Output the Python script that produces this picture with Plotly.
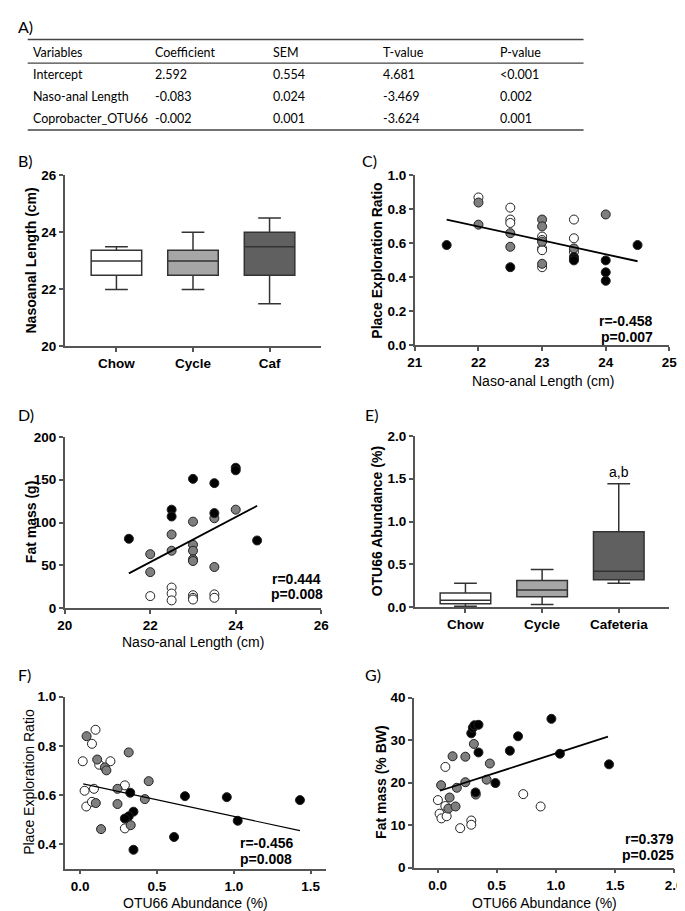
import plotly.graph_objects as go

W, H = 685, 911

# ---------------- DATA ----------------
# Table A
table_header = ["Variables", "Coefficient", "SEM", "T-value", "P-value"]
table_rows = [
    ["Intercept", "2.592", "0.554", "4.681", "<0.001"],
    ["Naso-anal Length", "-0.083", "0.024", "-3.469", "0.002"],
    ["Coprobacter_OTU66", "-0.002", "0.001", "-3.624", "0.001"],
]

# Panel B (box summary values)
b_groups = ["Chow", "Cycle", "Caf"]
b_low = [22.0, 22.0, 21.5]
b_q1 = [22.5, 22.5, 22.5]
b_med = [23.0, 23.0, 23.5]
b_q3 = [23.375, 23.375, 24.0]
b_high = [23.5, 24.0, 24.5]

# Panel C
c_white_x = [22, 22.5, 22.5, 22.5, 23, 23, 23, 23, 23, 23.5, 23.5, 23.5]
c_white_y = [0.87, 0.81, 0.74, 0.72, 0.64, 0.62, 0.57, 0.56, 0.46, 0.74, 0.63, 0.55]
c_gray_x = [22, 22, 22.5, 22.5, 23, 23, 23, 23, 23.5, 24]
c_gray_y = [0.84, 0.71, 0.66, 0.58, 0.74, 0.70, 0.61, 0.48, 0.57, 0.77]
c_black_x = [21.5, 22.5, 23.5, 23.5, 23.5, 24, 24, 24, 24.5]
c_black_y = [0.59, 0.46, 0.52, 0.51, 0.50, 0.50, 0.43, 0.38, 0.59]
c_fit_x = [21.5, 24.5]
c_fit_y = [0.74, 0.495]
c_stats = ["r=-0.458", "p=0.007"]

# Panel D
d_white_x = [22, 22.5, 22.5, 22.5, 23, 23, 23, 23.5, 23.5]
d_white_y = [14, 24, 17, 9, 15, 12, 10, 16, 12]
d_gray_x = [22, 22, 22.5, 22.5, 23, 23, 23, 23, 23, 23.5, 23.5, 24]
d_gray_y = [63, 42, 86, 67, 101, 74, 67, 57, 55, 105, 48, 115]
d_black_x = [21.5, 22.5, 22.5, 23, 23.5, 23.5, 24, 24, 24.5]
d_black_y = [81, 115, 107, 151, 146, 111, 164, 161, 79]
d_fit_x = [21.5, 24.5]
d_fit_y = [40.5, 119.5]
d_stats = ["r=0.444", "p=0.008"]

# Panel E (box summary values)
e_groups = ["Chow", "Cycle", "Cafeteria"]
e_low = [0.01, 0.03, 0.28]
e_q1 = [0.04, 0.12, 0.32]
e_med = [0.08, 0.20, 0.42]
e_q3 = [0.165, 0.31, 0.88]
e_high = [0.28, 0.44, 1.44]
e_sig = "a,b"

# Panel F
f_white_x = [0.10, 0.077, 0.017, 0.124, 0.197, 0.029, 0.09, 0.291, 0.04, 0.077, 0.291]
f_white_y = [0.865, 0.808, 0.737, 0.723, 0.737, 0.617, 0.625, 0.639, 0.553, 0.572, 0.464]
f_gray_x = [0.042, 0.111, 0.161, 0.171, 0.316, 0.446, 0.243, 0.421, 0.102, 0.243, 0.329, 0.136]
f_gray_y = [0.839, 0.744, 0.712, 0.70, 0.773, 0.656, 0.625, 0.583, 0.567, 0.563, 0.477, 0.461]
f_black_x = [0.326, 0.682, 0.954, 1.43, 0.347, 0.316, 0.291, 1.025, 0.611, 0.347]
f_black_y = [0.609, 0.595, 0.591, 0.579, 0.532, 0.513, 0.504, 0.495, 0.429, 0.377]
f_fit_x = [0.02, 1.43]
f_fit_y = [0.645, 0.455]
f_stats = ["r=-0.456", "p=0.008"]

# Panel G
g_white_x = [0.066, 0.003, 0.066, 0.017, 0.033, 0.077, 0.191, 0.285, 0.285, 0.724, 0.871]
g_white_y = [23.7, 15.9, 14.5, 12.7, 11.6, 12.1, 9.3, 11.1, 10.1, 17.3, 14.4]
g_gray_x = [0.307, 0.127, 0.235, 0.442, 0.415, 0.235, 0.03, 0.163, 0.323, 0.102, 0.091, 0.152]
g_gray_y = [29.1, 26.2, 26.1, 24.5, 20.7, 20.1, 19.4, 18.8, 17.2, 16.5, 13.9, 14.4]
g_black_x = [0.962, 0.68, 0.611, 1.034, 1.449, 0.489, 0.285, 0.298, 0.312, 0.346, 0.346, 0.321]
g_black_y = [35.0, 30.9, 27.5, 26.8, 24.3, 19.9, 31.6, 32.9, 33.5, 33.6, 27.1, 17.7]
g_fit_x = [0.02, 1.44]
g_fit_y = [18.1, 30.8]
g_stats = ["r=0.379", "p=0.025"]

# ---------------- STYLE ----------------
AX_COL = "#555555"
BOX_FILLS = ["#ffffff", "#a6a6a6", "#606060"]
PT_FILLS = {"white": "#ffffff", "gray": "#7f7f7f", "black": "#000000"}
ARIAL = "Liberation Sans, Arial, sans-serif"
CAL = "Lato, Open Sans, sans-serif"


def pxx(x):
    return x / W


def pxy(y):
    return 1 - y / H


fig = go.Figure()

# axis pixel boxes: (left, right, top, bottom)
boxes = {
    1: (50, 313, 163, 337),   # B
    2: (409, 670, 163, 336),  # C
    3: (50, 313, 429, 603),   # D
    4: (409, 670, 428, 602),  # E
    5: (50, 318, 693, 868),   # F
    6: (408, 675, 694, 867),  # G
}

tickfont = dict(family=ARIAL, size=13.5, color="black", weight="bold")


def axis_common():
    return dict(showline=True, linecolor=AX_COL, linewidth=1.5, ticks="outside",
                ticklen=4, tickwidth=1.5, tickcolor=AX_COL, showgrid=False,
                zeroline=False, tickfont=tickfont, fixedrange=True)


layout_axes = {}
for i, (l, r, t, b) in boxes.items():
    xa = axis_common()
    ya = axis_common()
    xa["domain"] = [pxx(l), pxx(r)]
    ya["domain"] = [pxy(b), pxy(t)]
    xa["anchor"] = "y" if i == 1 else f"y{i}"
    ya["anchor"] = "x" if i == 1 else f"x{i}"
    layout_axes["xaxis" if i == 1 else f"xaxis{i}"] = xa
    layout_axes["yaxis" if i == 1 else f"yaxis{i}"] = ya

# specific axis ranges / ticks
layout_axes["xaxis"].update(type="category", range=[-0.675, 2.675])
layout_axes["yaxis"].update(range=[20, 26], dtick=2, tick0=20)
layout_axes["xaxis2"].update(range=[21, 25], dtick=1, tick0=21)
layout_axes["yaxis2"].update(range=[0, 1], dtick=0.2, tick0=0, tickformat=".1f")
layout_axes["xaxis3"].update(range=[20, 26], dtick=2, tick0=20)
layout_axes["yaxis3"].update(range=[0, 200], dtick=50, tick0=0)
layout_axes["xaxis4"].update(type="category", range=[-0.66, 2.66])
layout_axes["yaxis4"].update(range=[0, 2], dtick=0.5, tick0=0, tickformat=".1f")
layout_axes["xaxis5"].update(range=[-0.1, 1.6], tickvals=[0, 0.5, 1.0, 1.5], tickformat=".1f")
layout_axes["yaxis5"].update(range=[0.3, 1.0], tickvals=[0.4, 0.6, 0.8, 1.0], tickformat=".1f")
layout_axes["xaxis6"].update(range=[-0.2, 2.0], tickvals=[0, 0.5, 1.0, 1.5, 2.0], tickformat=".1f")
layout_axes["yaxis6"].update(range=[0, 40], dtick=10, tick0=0)


def add_boxes(groups, low, q1, med, q3, high, xa, ya):
    for k, g in enumerate(groups):
        fig.add_trace(go.Box(
            x=[g], lowerfence=[low[k]], q1=[q1[k]], median=[med[k]], q3=[q3[k]],
            upperfence=[high[k]], fillcolor=BOX_FILLS[k],
            line=dict(color="#333333", width=1.5), width=0.66, whiskerwidth=0.45,
            boxpoints=False, showlegend=False, xaxis=xa, yaxis=ya, hoverinfo="skip"))


def add_scatter(wx, wy, gx, gy, bx, by, fx, fy, xa, ya, fitw=1.8):
    for xs, ys, key in ((wx, wy, "white"), (gx, gy, "gray"), (bx, by, "black")):
        fig.add_trace(go.Scatter(
            x=xs, y=ys, mode="markers", showlegend=False, xaxis=xa, yaxis=ya,
            cliponaxis=False,
            marker=dict(size=9, color=PT_FILLS[key], line=dict(color="#222222", width=1))))
    fig.add_trace(go.Scatter(x=fx, y=fy, mode="lines", showlegend=False, xaxis=xa, yaxis=ya,
                             line=dict(color="black", width=fitw)))


add_boxes(b_groups, b_low, b_q1, b_med, b_q3, b_high, "x", "y")
add_scatter(c_white_x, c_white_y, c_gray_x, c_gray_y, c_black_x, c_black_y, c_fit_x, c_fit_y, "x2", "y2")
add_scatter(d_white_x, d_white_y, d_gray_x, d_gray_y, d_black_x, d_black_y, d_fit_x, d_fit_y, "x3", "y3")
add_boxes(e_groups, e_low, e_q1, e_med, e_q3, e_high, "x4", "y4")
add_scatter(f_white_x, f_white_y, f_gray_x, f_gray_y, f_black_x, f_black_y, f_fit_x, f_fit_y, "x5", "y5", fitw=1.1)
add_scatter(g_white_x, g_white_y, g_gray_x, g_gray_y, g_black_x, g_black_y, g_fit_x, g_fit_y, "x6", "y6")

annotations = []


def ann(text, x, y, size=14, bold=False, family=ARIAL, angle=0, xanchor="center", yanchor="middle"):
    annotations.append(dict(
        text=text, x=pxx(x), y=pxy(y), xref="paper", yref="paper", showarrow=False,
        textangle=angle, xanchor=xanchor, yanchor=yanchor,
        font=dict(family=family, size=size, color="black", weight="bold" if bold else "normal")))


# panel labels
for lab, x, y in (("A)", 0, 12), ("B)", 0, 148), ("C)", 353, 148), ("D)", 0, 406),
                  ("E)", 356, 406), ("F)", 0, 671), ("G)", 356, 671)):
    ann(lab, x, y, size=16, family=CAL, xanchor="left")

# table A
col_x = [15, 140, 262, 374, 494]
row_y = [38, 61, 83, 105]
for j, h in enumerate(table_header):
    ann(h, col_x[j], row_y[0], size=12.5, family=CAL, xanchor="left")
for i, row in enumerate(table_rows):
    for j, v in enumerate(row):
        ann(v, col_x[j], row_y[i + 1], size=12.5, family=CAL, xanchor="left")
shapes = []
for y, w in ((25, 1.5), (49, 1.2), (117, 1.5)):
    shapes.append(dict(type="line", xref="paper", yref="paper", x0=pxx(12), x1=pxx(582),
                       y0=pxy(y), y1=pxy(y), line=dict(color="#444444", width=w)))

# axis titles
ann("Nasoanal Length (cm)", 15, 250, size=14, bold=True, angle=-90)
ann("Place Exploration Ratio", 370, 250, size=14, bold=True, angle=-90)
ann("Naso-anal Length (cm)", 540, 372, size=14)
ann("Fat mass (g)", 15, 516, size=14, bold=True, angle=-90)
ann("Naso-anal Length (cm)", 181, 638, size=14)
ann("OTU66 Abundance (%)", 370, 515, size=14, bold=True, angle=-90)
ann("Place Exploration Ratio", 13, 780, size=14, angle=-90)
ann("OTU66 Abundance (%)", 184, 903, size=14)
ann("Fat mass (% BW)", 374, 780, size=14, bold=True, angle=-90)
ann("OTU66 Abundance (%)", 542, 903, size=14)

# stats text
ann(c_stats[0], 655, 311, size=14, bold=True, xanchor="right")
ann(c_stats[1], 655, 327, size=14, bold=True, xanchor="right")
ann(d_stats[0], 315, 573, size=14, bold=True, xanchor="right")
ann(d_stats[1], 317, 589, size=14, bold=True, xanchor="right")
ann(f_stats[0], 228, 842, size=14, bold=True, xanchor="left")
ann(f_stats[1], 228, 858, size=14, bold=True, xanchor="left")
ann(g_stats[0], 677, 838, size=14, bold=True, xanchor="right")
ann(g_stats[1], 677, 854, size=14, bold=True, xanchor="right")

# significance label on E (placed above the Cafeteria whisker)
annotations.append(dict(text=e_sig, x=e_groups[2], y=e_high[2], xref="x4", yref="y4",
                        showarrow=False, yanchor="bottom", yshift=2,
                        font=dict(family=ARIAL, size=14, color="black")))

fig.update_layout(
    width=W, height=H, autosize=False,
    margin=dict(l=0, r=0, t=0, b=0),
    paper_bgcolor="white", plot_bgcolor="white",
    boxmode="overlay",
    annotations=annotations, shapes=shapes,
    **layout_axes,
)

fig.write_html("out.html")
